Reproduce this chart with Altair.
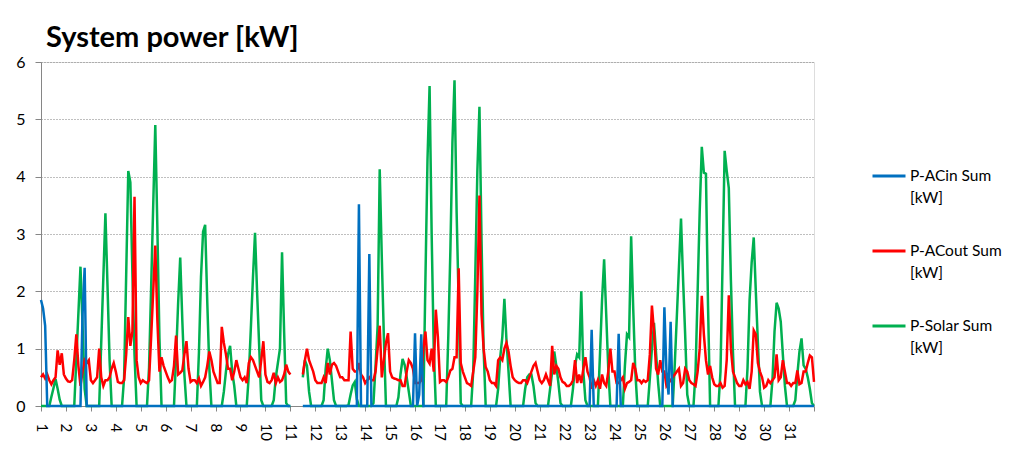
import altair as alt
import pandas as pd

N = None  # missing readings (logger gap on day 11)

# Two-hour readings, one row of 12 values per day (00:00 ... 22:00), days 1..31
acin_kw = [
    [1.85, 1.7, 1.4, 0, 0, 0, 0, 0, 0, 0, 0, 0],
    [0, 0, 0, 0, 0, 0, 0, 0, 1.6, 2.41, 0, 0],
    [0, 0, 0, 0, 0, 0, 0, 0, 0, 0, 0, 0],
    [0, 0, 0, 0, 0, 0, 0, 0, 0, 0, 0, 0],
    [0, 0, 0, 0, 0, 0, 0, 0, 0, 0, 0, 0],
    [0, 0, 0, 0, 0, 0, 0, 0, 0, 0, 0, 0],
    [0, 0, 0, 0, 0, 0, 0, 0, 0, 0, 0, 0],
    [0, 0, 0, 0, 0, 0, 0, 0, 0, 0, 0, 0],
    [0, 0, 0, 0, 0, 0, 0, 0, 0, 0, 0, 0],
    [0, 0, 0, 0, 0, 0, 0, 0, 0, 0, 0, 0],
    [0, N, N, N, N, N, 0, 0, 0, 0, 0, 0],
    [0, 0, 0, 0, 0, 0, 0, 0, 0, 0, 0, 0],
    [0, 0, 0, 0, 0, 0, 0, 0, 0, 3.52, 0, 0],
    [0, 0, 2.65, 0, 0, 0, 0, 0, 0, 0, 0, 0],
    [0, 0, 0, 0, 0, 0, 0, 0, 0, 0, 0, 0],
    [1.27, 0, 0.2, 1.25, 0, 0, 0, 0, 0, 0, 0, 0],
    [0, 0, 0, 0, 0, 0, 0, 0, 0, 0, 0, 0],
    [0, 0, 0, 0, 0, 0, 0, 0, 0, 0, 0, 0],
    [0, 0, 0, 0, 0, 0, 0, 0, 0, 0, 0, 0],
    [0, 0, 0, 0, 0, 0, 0, 0, 0, 0, 0, 0],
    [0, 0, 0, 0, 0, 0, 0, 0, 0, 0, 0, 0],
    [0, 0, 0, 0, 0, 0, 0, 0, 0, 0, 0, 0],
    [0, 1.33, 0, 0, 0, 0, 0, 0, 0, 0, 0, 0],
    [0, 0, 1.26, 0, 0, 0, 0, 0, 0, 0, 0, 0],
    [0, 0, 0, 0, 0, 0, 0, 0, 0, 0, 0, 0],
    [1.72, 0.6, 0.2, 1.47, 0, 0, 0, 0, 0, 0, 0, 0],
    [0, 0, 0, 0, 0, 0, 0, 0, 0, 0, 0, 0],
    [0, 0, 0, 0, 0, 0, 0, 0, 0, 0, 0, 0],
    [0, 0, 0, 0, 0, 0, 0, 0, 0, 0, 0, 0],
    [0, 0, 0, 0, 0, 0, 0, 0, 0, 0, 0, 0],
    [0, 0, 0, 0, 0, 0, 0, 0, 0, 0, 0, 0],
]
acin_last = 0

acout_kw = [
    [0.5, 0.55, 0.48, 0.55, 0.45, 0.38, 0.45, 0.5, 0.97, 0.72, 0.92, 0.55],
    [0.48, 0.43, 0.42, 0.45, 0.8, 1.25, 0.7, 0.35, 0.6, 0.8, 0.75, 0.8],
    [0.45, 0.4, 0.45, 0.5, 1.0, 0.5, 0.35, 0.45, 0.45, 0.5, 0.65, 0.75],
    [0.6, 0.42, 0.4, 0.4, 0.45, 0.9, 1.55, 1.05, 1.3, 3.65, 0.8, 0.5],
    [0.4, 0.45, 0.42, 0.4, 0.45, 1.2, 2.0, 2.8, 1.5, 0.6, 0.85, 0.7],
    [0.6, 0.5, 0.42, 0.45, 0.7, 1.23, 0.55, 0.58, 0.62, 0.9, 1.13, 0.65],
    [0.42, 0.45, 0.45, 0.4, 0.48, 0.35, 0.42, 0.5, 0.7, 0.95, 0.8, 0.6],
    [0.5, 0.4, 0.4, 1.38, 1.1, 0.9, 0.65, 0.65, 0.45, 0.6, 0.8, 0.65],
    [0.5, 0.45, 0.5, 0.4, 0.75, 0.85, 0.8, 0.7, 0.6, 0.5, 0.8, 1.13],
    [0.55, 0.42, 0.4, 0.45, 0.58, 0.4, 0.5, 0.42, 0.45, 0.55, 0.72, 0.6],
    [0.55, N, N, N, N, N, 0.55, 0.8, 1.0, 0.8, 0.7, 0.6],
    [0.45, 0.4, 0.4, 0.4, 0.5, 0.4, 0.75, 0.55, 0.72, 0.75, 0.7, 0.6],
    [0.5, 0.5, 0.45, 0.45, 0.45, 1.3, 0.65, 0.6, 0.6, 0.75, 0.55, 0.5],
    [0.4, 0.45, 0.5, 0.45, 0.45, 0.6, 1.0, 1.4, 0.5, 0.8, 1.1, 1.27],
    [0.6, 0.5, 0.48, 0.47, 0.45, 0.45, 0.35, 0.35, 0.6, 0.8, 0.75, 0.65],
    [0.4, 0.4, 0.4, 0.45, 1.0, 1.3, 0.8, 0.74, 1.0, 0.6, 1.68, 1.2],
    [0.42, 0.45, 0.45, 0.42, 0.5, 0.62, 0.65, 0.85, 0.85, 2.4, 0.75, 0.6],
    [0.5, 0.4, 0.38, 0.35, 0.6, 0.85, 2.0, 3.67, 1.6, 1.0, 0.68, 0.6],
    [0.45, 0.4, 0.4, 0.35, 0.8, 0.85, 0.8, 1.0, 1.1, 0.95, 0.7, 0.5],
    [0.45, 0.42, 0.4, 0.4, 0.45, 0.45, 0.4, 0.5, 0.6, 0.7, 0.75, 0.6],
    [0.45, 0.4, 0.45, 0.55, 0.45, 0.35, 1.05, 0.55, 0.7, 0.65, 0.5, 0.42],
    [0.4, 0.35, 0.35, 0.38, 0.45, 0.8, 0.4, 0.55, 0.4, 0.65, 0.85, 0.6],
    [0.5, 0.3, 0.45, 0.35, 0.45, 0.3, 0.55, 0.4, 0.35, 0.6, 1.0, 0.6],
    [0.6, 0.4, 0.4, 0.45, 0.5, 0.3, 0.4, 0.42, 0.45, 0.75, 0.65, 0.45],
    [0.45, 0.4, 0.45, 0.42, 0.45, 0.9, 1.75, 1.3, 0.65, 0.55, 0.8, 0.6],
    [0.6, 0.35, 0.4, 0.45, 0.5, 0.55, 0.6, 0.65, 0.35, 0.4, 0.65, 0.6],
    [0.45, 0.4, 0.38, 0.35, 0.6, 1.0, 1.92, 1.25, 0.8, 0.55, 0.7, 0.5],
    [0.38, 0.35, 0.35, 0.4, 0.32, 0.35, 0.8, 1.93, 1.0, 0.6, 0.5, 0.4],
    [0.35, 0.35, 0.45, 0.38, 0.42, 0.3, 0.6, 1.32, 1.25, 0.75, 0.6, 0.5],
    [0.32, 0.35, 0.45, 0.4, 0.45, 0.5, 0.9, 0.45, 0.5, 0.8, 0.6, 0.4],
    [0.4, 0.35, 0.4, 0.4, 0.62, 0.38, 0.4, 0.6, 0.6, 0.75, 0.88, 0.85],
]
acout_last = 0.42

solar_kw = [
    [0, 0, 0, 0, 0, 0.16, 0.31, 0.47, 0.3, 0.11, 0, 0],
    [0, 0, 0, 0, 0, 0.81, 1.62, 2.43, 1.4, 0.3, 0, 0],
    [0, 0, 0, 0, 0, 1.12, 2.24, 3.36, 2.1, 0.8, 0, 0],
    [0, 0, 0, 0, 0.5, 2.3, 4.1, 3.9, 2.3, 0.9, 0, 0],
    [0, 0, 0, 0, 0.67, 2.06, 3.5, 4.9, 3.1, 1.18, 0, 0],
    [0, 0, 0, 0, 0, 0.86, 1.8, 2.59, 1.5, 0.55, 0, 0],
    [0, 0, 0, 0, 0.93, 2.25, 3.04, 3.16, 1.83, 0.66, 0, 0],
    [0, 0, 0, 0, 0.25, 0.6, 0.9, 1.05, 0.6, 0.35, 0, 0],
    [0, 0, 0, 0, 0.54, 1.37, 2.24, 3.02, 1.98, 1.04, 0.1, 0],
    [0, 0, 0, 0, 0.1, 0.5, 0.75, 1.0, 2.68, 1.29, 0.05, 0],
    [0, N, N, N, N, N, 0.5, 0.8, 0.7, 0.25, 0, 0],
    [0, 0, 0, 0, 0.1, 0.65, 1.0, 0.8, 0.45, 0.1, 0, 0],
    [0, 0, 0, 0, 0.02, 0.2, 0.36, 0.42, 0.12, 0, 0, 0],
    [0, 0, 0, 0, 0.05, 0.7, 1.4, 4.13, 2.6, 1.2, 0, 0],
    [0, 0, 0, 0, 0.15, 0.55, 0.82, 0.72, 0.5, 0.25, 0, 0],
    [0, 0, 0, 0, 0, 2.2, 4.3, 5.58, 3.0, 1.0, 0, 0],
    [0, 0, 0, 0, 1.2, 2.7, 4.6, 5.68, 3.4, 1.8, 0.05, 0],
    [0, 0, 0, 0, 0.6, 2.3, 4.1, 5.22, 2.9, 1.0, 0, 0],
    [0, 0, 0, 0, 0.3, 0.85, 1.2, 1.87, 1.15, 0.6, 0, 0],
    [0, 0, 0, 0, 0, 0.3, 0.5, 0.55, 0.55, 0.35, 0.05, 0],
    [0, 0, 0, 0, 0, 0.3, 0.6, 0.95, 0.7, 0.4, 0.05, 0],
    [0, 0, 0, 0, 0.3, 0.7, 0.9, 0.85, 2.0, 0.6, 0.1, 0],
    [0, 0, 0, 0, 0, 0.9, 1.85, 2.56, 1.6, 0.64, 0, 0],
    [0, 0, 0, 0, 0, 0.7, 1.25, 1.2, 2.96, 1.7, 0.6, 0],
    [0, 0, 0, 0, 0, 0.48, 1.0, 1.45, 0.92, 0.4, 0, 0],
    [0, 0, 0, 0, 0, 0.73, 1.57, 2.42, 3.27, 2.2, 1.24, 0.2],
    [0, 0, 0, 0.6, 2.0, 3.4, 4.52, 4.07, 4.05, 1.75, 0, 0],
    [0, 0, 0, 0.6, 2.5, 4.45, 4.1, 3.8, 2.2, 0.94, 0, 0],
    [0, 0, 0, 0, 0.66, 1.85, 2.5, 2.94, 2.0, 1.1, 0.25, 0],
    [0, 0, 0, 0, 0.45, 1.3, 1.8, 1.7, 1.47, 0.9, 0.35, 0],
    [0, 0, 0, 0.1, 0.55, 0.95, 1.18, 0.71, 0.65, 0.5, 0.3, 0.05],
]
solar_last = 0

series_names = ["P-ACin Sum [kW]", "P-ACout Sum [kW]", "P-Solar Sum [kW]"]
series_colors = ["#0070C0", "#FF0000", "#00B050"]
day_ticks = list(range(1, 33))
y_ticks = [0, 1, 2, 3, 4, 5, 6]
samples_per_day = 12


def flatten(rows, last):
    return [v for row in rows for v in row] + [last]


columns = {
    series_names[0]: flatten(acin_kw, acin_last),
    series_names[1]: flatten(acout_kw, acout_last),
    series_names[2]: flatten(solar_kw, solar_last),
}
n = len(columns[series_names[0]])
times = [1 + i / samples_per_day for i in range(n)]

records = []
for name in series_names:
    for t, v in zip(times, columns[name]):
        records.append({"day": t, "kw": v, "series": name})
df = pd.DataFrame(records)

FONT = "Lato"

x_enc = alt.X(
    "day:Q",
    scale=alt.Scale(domain=[1, 32], nice=False, zero=False),
    axis=alt.Axis(
        values=day_ticks,
        format="d",
        labelExpr="datum.value < 32 ? datum.label : ''",
        labelAngle=90,
        labelOverlap=False,
        labelFlush=False,
        labelBound=False,
        tickSize=5,
        labelPadding=12,
        grid=False,
        title=None,
        domainColor="#868686",
        tickColor="#868686",
        labelColor="black",
        labelFont=FONT,
        labelFontSize=15,
    ),
)
y_enc = alt.Y(
    "kw:Q",
    scale=alt.Scale(domain=[0, 6], nice=False),
    axis=alt.Axis(
        values=y_ticks,
        grid=True,
        gridDash=[1, 2],
        gridColor="#7f7f7f",
        gridWidth=1,
        tickSize=6,
        labelPadding=10,
        title=None,
        domainColor="#868686",
        tickColor="#868686",
        labelColor="black",
        labelFont=FONT,
        labelFontSize=16,
    ),
)
color_enc = alt.Color(
    "series:N",
    scale=alt.Scale(domain=series_names, range=series_colors),
    legend=alt.Legend(
        title=None,
        orient="none",
        legendX=830,
        legendY=96,
        symbolType="stroke",
        symbolSize=1089,
        symbolStrokeWidth=3,
        labelFont=FONT,
        labelFontSize=15.5,
        labelColor="black",
        labelLimit=300,
        labelOffset=3,
        labelExpr="[replace(datum.label, ' [kW]', ''), '[kW]']",
        rowPadding=26,
    ),
)

base = alt.Chart(df).mark_line(strokeWidth=2.5, invalid="break-paths-show-domains").encode(
    x=x_enc, y=y_enc, color=color_enc
)

layers = [
    base.transform_filter(alt.datum.series == series_names[2]),
    base.transform_filter(alt.datum.series == series_names[1]),
    base.transform_filter(alt.datum.series == series_names[0]),
]

chart = (
    alt.layer(*layers)
    .properties(
        width=773,
        height=344,
        autosize=alt.AutoSizeParams(type="none"),
        padding={"left": 33, "top": 54, "right": 189, "bottom": 50},
        title=alt.Title(
            "System power [kW]",
            anchor="start",
            frame="group",
            font=FONT,
            fontSize=29,
            fontWeight="bold",
            color="black",
            offset=1,
            dx=5,
        ),
    )
    .configure_view(stroke=None)
    .configure(background="white", style={"guide-label": {"lineHeight": 22}})
)

chart.save("out.html", embed_options={"renderer": "svg", "actions": False})
